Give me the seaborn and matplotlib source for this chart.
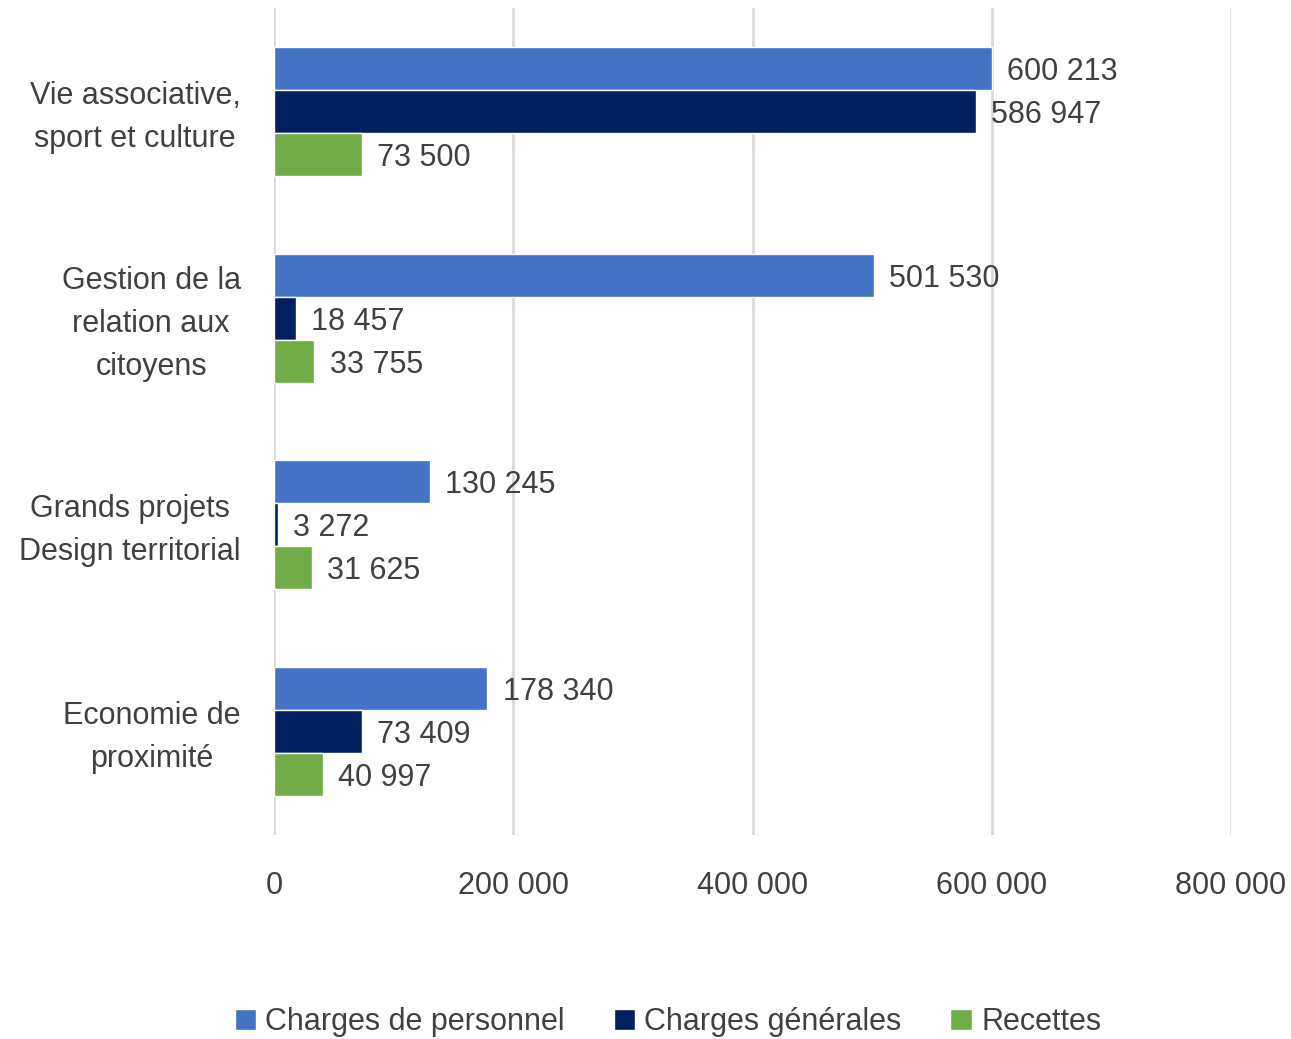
import matplotlib
matplotlib.use("Agg")
import matplotlib.pyplot as plt
import matplotlib.transforms as mtransforms
import seaborn as sns
import pandas as pd
from matplotlib.patches import Patch

categories = ["Vie associative,\nsport et culture", "Gestion de la\nrelation aux\ncitoyens",
              "Grands projets\nDesign territorial", "Economie de\nproximité"]
series = ["Charges de personnel", "Charges générales", "Recettes"]
charges_personnel = [600213, 501530, 130245, 178340]
charges_generales = [586947, 18457, 3272, 73409]
recettes = [73500, 33755, 31625, 40997]
xticks = [0, 200000, 400000, 600000, 800000]
colors = ["#4472C4", "#002060", "#70AD47"]

rows = []
for s, vals in zip(series, [charges_personnel, charges_generales, recettes]):
    for c, v in zip(categories, vals):
        rows.append({"cat": c, "serie": s, "val": v})
df = pd.DataFrame(rows)

sns.set_theme(style="white")
plt.rcParams['font.family'] = ['Liberation Sans Narrow', 'Liberation Sans', 'DejaVu Sans']
txt = "#404040"
fs = 22

fig = plt.figure(figsize=(12.91, 10.39), dpi=100)
ax = fig.add_axes([274/1291, 1-835/1039, (1231-274)/1291, (835-8)/1039])
sns.barplot(data=df, y="cat", x="val", hue="serie", order=categories, hue_order=series,
            palette=colors, width=0.625, orient="h", ax=ax, legend=False, saturation=1)

def fmt(v):
    return f"{v:,}".replace(",", " ")

for cont in ax.containers:
    vals = [p.get_width() for p in cont]
    anns = ax.bar_label(cont, labels=[fmt(int(round(v))) for v in vals], padding=11,
                        fontsize=fs, color=txt)
    for a in anns:
        a.set_va("center_baseline")

ax.set_xlim(0, 800000)
ax.set_xticks(xticks)
ax.set_xticklabels([fmt(v) for v in xticks], fontsize=fs, color=txt)
ax.set_yticks(range(len(categories)))
ax.set_yticklabels(categories, fontsize=fs, color=txt, multialignment="center", linespacing=1.55)
ax.tick_params(axis="x", length=0, pad=26)
ax.tick_params(axis="y", length=0, pad=24)
offset = mtransforms.ScaledTranslation(0, 4/100, fig.dpi_scale_trans)
for lab in ax.get_yticklabels():
    lab.set_transform(lab.get_transform() + offset)
ax.set_xlabel("")
ax.set_ylabel("")
ax.grid(axis="x", color="#D9D9D9", linewidth=2)
ax.set_axisbelow(True)
for sp in ax.spines.values():
    sp.set_visible(False)

handles = [Patch(facecolor=c, label=s) for c, s in zip(colors, series)]
fig.legend(handles=handles, loc="center", bbox_to_anchor=(668/1291, 1-1022/1039), ncol=3,
           frameon=False, fontsize=fs, labelcolor=txt, handlelength=0.7, handleheight=0.7,
           handletextpad=0.3, columnspacing=1.6)

fig.savefig("out.png", dpi=100)
